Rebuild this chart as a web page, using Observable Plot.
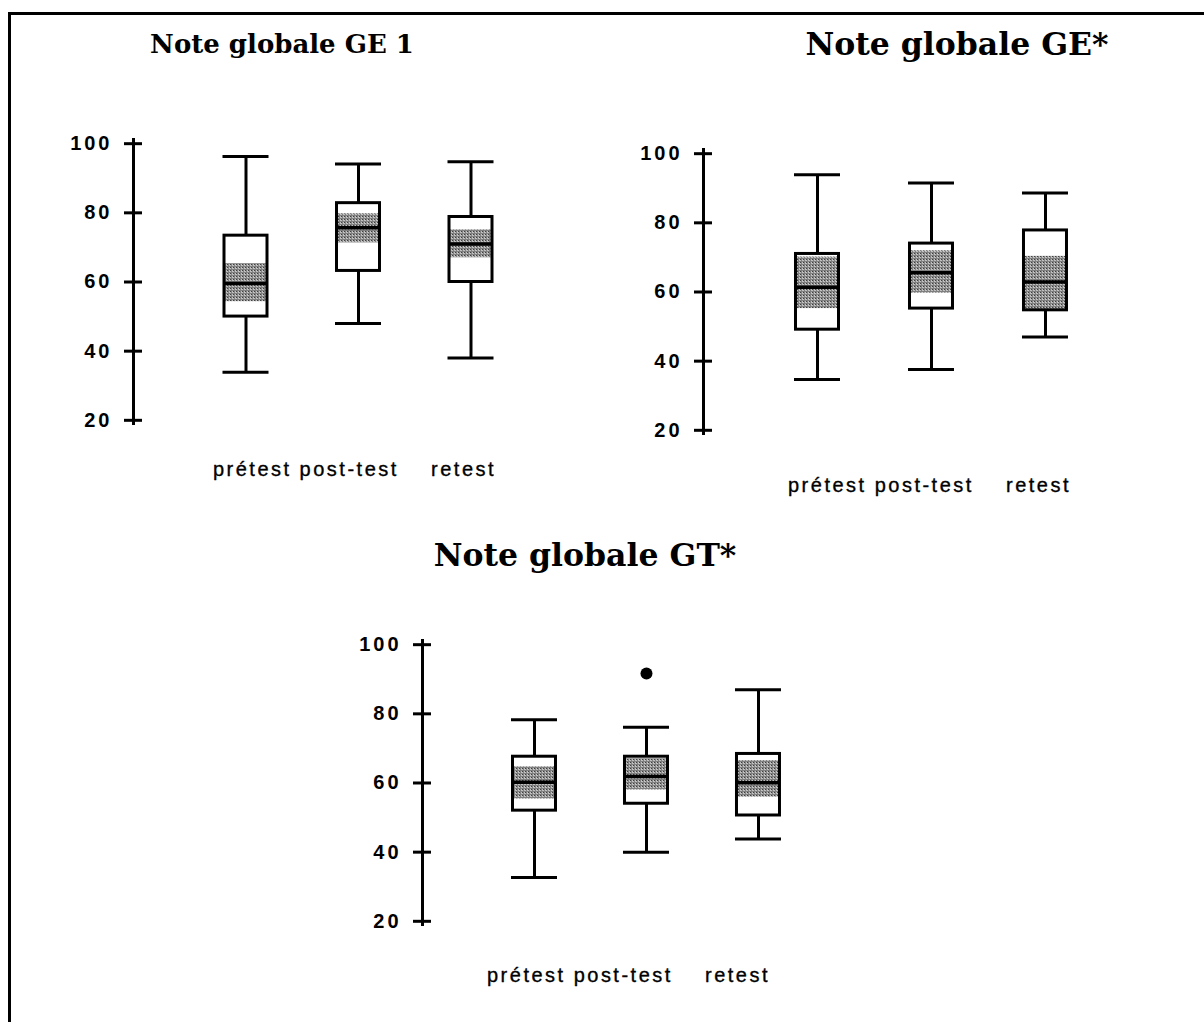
<!DOCTYPE html>
<html>
<head>
<meta charset="utf-8">
<script src="https://cdn.jsdelivr.net/npm/d3@7"></script>
<script src="https://cdn.jsdelivr.net/npm/@observablehq/plot@0.6"></script>
<style>
  body { margin: 0; background: #fff; }
  #page { position: relative; width: 1204px; height: 1022px; overflow: hidden; background: #fff; }
  #frame { position: absolute; left: 8px; top: 12px; width: 1210px; height: 1030px;
           border-top: 3px solid #000; border-left: 3px solid #000; }
  .title { position: absolute; transform: translateX(-50%); white-space: nowrap;
           font-family: "DejaVu Serif", serif; font-weight: bold; line-height: 1; color: #000; }
  .panel { position: absolute; }
  .panel svg { overflow: visible; }
  .panel g[aria-label="y-axis tick label"] text { letter-spacing: 3px; }
  .panel g.cats text { letter-spacing: 2.5px; white-space: pre; }
</style>
</head>
<body>
<div id="page"><div id="frame"></div></div>
<script>
// Test occasions, in drawing order
const categories = ["prétest", "post-test", "retest"];
const yTicks = [20, 40, 60, 80, 100];

// Note globale GE 1
const ge1Low    = [33.9, 48.0, 38.0];
const ge1Q1     = [50.0, 63.2, 60.0];
const ge1Median = [59.6, 75.7, 71.0];
const ge1Q3     = [73.4, 82.8, 78.8];
const ge1High   = [96.3, 94.1, 94.8];
const ge1CiLow  = [54.3, 71.3, 67.0];
const ge1CiHigh = [65.3, 79.7, 75.1];

// Note globale GE*
const geLow    = [34.7, 37.6, 47.0];
const geQ1     = [49.1, 55.2, 54.7];
const geMedian = [61.4, 65.6, 62.9];
const geQ3     = [71.0, 74.0, 77.8];
const geHigh   = [93.9, 91.5, 88.6];
const geCiLow  = [55.2, 59.7, 54.7];
const geCiHigh = [70.1, 71.9, 70.3];

// Note globale GT*
const gtLow    = [32.7, 40.0, 43.8];
const gtQ1     = [52.0, 54.0, 50.6];
const gtMedian = [60.2, 61.9, 60.1];
const gtQ3     = [67.6, 67.6, 68.4];
const gtHigh   = [78.3, 76.1, 87.0];
const gtCiLow  = [55.4, 58.0, 55.9];
const gtCiHigh = [64.7, 67.0, 66.5];
const gtOutliers = [["post-test", 91.7]];

const page = document.getElementById("page");

function addTitle(text, cx, top, size) {
  const div = document.createElement("div");
  div.className = "title";
  div.textContent = text;
  div.style.left = cx + "px";
  div.style.top = top + "px";
  div.style.fontSize = size + "px";
  page.appendChild(div);
}

function boxPanel({id, low, q1, med, q3, high, ciLow, ciHigh, outliers = [], unit, left, top, labelDx, labelDy}) {
  const rows = categories.map((c, i) => ({
    cat: c, x: i + 1, low: low[i], q1: q1[i], med: med[i], q3: q3[i],
    high: high[i], ciLow: ciLow[i], ciHigh: ciHigh[i]
  }));
  const pts = outliers.map(([c, v]) => ({x: categories.indexOf(c) + 1, v}));
  const hb = 21.5 / unit;   // half box width
  const hc = 23 / unit;     // half cap width
  const ht = 9 / unit;      // half axis tick length
  const label = categories[0] + " " + categories[1] + "    " + categories[2];
  const marginLeft = 90;

  const svg = Plot.plot({
    width: marginLeft + 3.6 * unit + 10,
    height: 367,
    marginLeft, marginRight: 10, marginTop: 10, marginBottom: 70,
    x: {domain: [0, 3.6], axis: null},
    y: {domain: [18.5, 101.5], axis: null},
    style: {background: "transparent", color: "#000", overflow: "visible"},
    marks: [
      Plot.rect(rows, {x1: d => d.x - hb, x2: d => d.x + hb, y1: "q1", y2: "q3", fill: "#fff"}),
      Plot.rect(rows, {x1: d => d.x - hb, x2: d => d.x + hb, y1: "ciLow", y2: "ciHigh", fill: `url(#${id}-dots)`}),
      Plot.rect(rows, {x1: d => d.x - hb, x2: d => d.x + hb, y1: "q1", y2: "q3", fill: "none", stroke: "#000", strokeWidth: 3}),
      Plot.ruleY(rows, {y: "med", x1: d => d.x - hb, x2: d => d.x + hb, stroke: "#000", strokeWidth: 3.5}),
      Plot.ruleX(rows, {x: "x", y1: "q3", y2: "high", stroke: "#000", strokeWidth: 3}),
      Plot.ruleX(rows, {x: "x", y1: "low", y2: "q1", stroke: "#000", strokeWidth: 3}),
      Plot.ruleY(rows, {y: "high", x1: d => d.x - hc, x2: d => d.x + hc, stroke: "#000", strokeWidth: 3}),
      Plot.ruleY(rows, {y: "low", x1: d => d.x - hc, x2: d => d.x + hc, stroke: "#000", strokeWidth: 3}),
      Plot.dot(pts, {x: "x", y: "v", r: 6, fill: "#000", stroke: "none"}),
      Plot.ruleX([0], {stroke: "#000", strokeWidth: 3}),
      Plot.ruleY(yTicks, {y: d => d, x1: -ht, x2: ht, stroke: "#000", strokeWidth: 3}),
      Plot.axisY({ticks: yTicks, tickSize: 0, tickPadding: 21, fontSize: 20, fontWeight: "bold",
                  fontFamily: "Liberation Sans, Arial, sans-serif"}),
      Plot.text([label], {text: d => d, x: 2, frameAnchor: "bottom", dx: labelDx, dy: labelDy,
                          fontSize: 20, fontFamily: "Liberation Sans, Arial, sans-serif",
                          fill: "#000", stroke: "#000", strokeWidth: 0.35, className: "cats"})
    ]
  });

  // halftone dots used for the median confidence band, aligned to whole pixels
  svg.insertAdjacentHTML("afterbegin",
    `<defs><pattern id="${id}-dots" width="3" height="3" patternUnits="userSpaceOnUse"
        patternTransform="translate(0.5 0.5)">
       <rect width="3" height="3" fill="#fff"/>
       <rect x="0" y="0" width="2" height="1" fill="#000"/>
       <rect x="1" y="1" width="1" height="1" fill="#000"/>
       <rect x="2" y="2" width="1" height="1" fill="#000"/>
     </pattern></defs>`);

  const wrap = document.createElement("div");
  wrap.className = "panel";
  wrap.style.left = (left - marginLeft) + "px";
  wrap.style.top = top + "px";
  wrap.appendChild(svg);
  page.appendChild(wrap);
}

addTitle("Note globale GE 1", 282, 31, 26);
addTitle("Note globale GE*", 957, 28, 31.5);
addTitle("Note globale GT*", 585, 539, 31.5);

boxPanel({id: "ge1", low: ge1Low, q1: ge1Q1, med: ge1Median, q3: ge1Q3, high: ge1High,
          ciLow: ge1CiLow, ciHigh: ge1CiHigh, unit: 112.5, left: 133, top: 128, labelDx: -4, labelDy: 50});
boxPanel({id: "ge", low: geLow, q1: geQ1, med: geMedian, q3: geQ3, high: geHigh,
          ciLow: geCiLow, ciHigh: geCiHigh, unit: 114, left: 703, top: 138, labelDx: -2, labelDy: 57});
boxPanel({id: "gt", low: gtLow, q1: gtQ1, med: gtMedian, q3: gtQ3, high: gtHigh,
          ciLow: gtCiLow, ciHigh: gtCiHigh, outliers: gtOutliers, unit: 112, left: 422, top: 629,
          labelDx: -18, labelDy: 56});
</script>
</body>
</html>
